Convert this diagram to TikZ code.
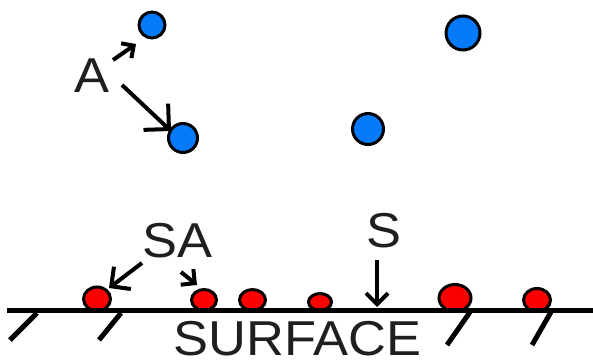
\documentclass[tikz,border=0pt]{standalone}
\usepackage{fontspec}
\setmainfont{Liberation Sans}
\usetikzlibrary{arrows.meta,shapes.geometric}
\definecolor{dotblue}{RGB}{5,122,250}
\definecolor{dotred}{RGB}{250,0,0}
\tikzset{
  atom/.style={circle,draw=black,line width=3pt,fill=dotblue,inner sep=0pt},
  adatom/.style={ellipse,draw=black,line width=3pt,fill=dotred,inner sep=0pt},
  label/.style={inner sep=0pt,font=\fontsize{49}{51}\selectfont,text=black!88,xscale=1.07},
  pointer/.style={line width=4pt,-{Straight Barb[length=#1,width=2*#1,line width=4pt]}},
  pointer/.default=14pt,
  hatch/.style={line width=5pt},
  ground/.style={line width=5.5pt}
}
\begin{document}
\begin{tikzpicture}[x=1pt,y=-1pt]
\useasboundingbox (0,0) rectangle (593,361);

% free atoms
\node[atom,minimum size=26pt] (a1) at (152,25) {};
\node[atom,minimum size=29pt] (a2) at (183,138) {};
\node[atom,minimum size=34pt] (a3) at (463,33) {};
\node[atom,minimum size=31pt] (a4) at (368,129) {};

% adsorbed atoms sitting on the surface
\node[adatom,minimum width=27pt,minimum height=24pt] (s1) at (97,299) {};
\node[adatom,minimum width=25pt,minimum height=21pt] (s2) at (204,300) {};
\node[adatom,minimum width=26pt,minimum height=21pt] (s3) at (252.5,300) {};
\node[adatom,minimum width=23pt,minimum height=17pt] (s4) at (320,302) {};
\node[adatom,minimum width=32pt,minimum height=27pt] (s5) at (455,298) {};
\node[adatom,minimum width=27pt,minimum height=23pt] (s6) at (537,300) {};

% the surface and its hatching
\coordinate (gl) at (7,310.5);
\coordinate (gr) at (593,310.5);
\draw[ground] (gl) -- (gr);
\coordinate (h1t) at (37,313); \coordinate (h1b) at (10,340);
\coordinate (h2t) at (121,313); \coordinate (h2b) at (99,340);
\coordinate (h3t) at (470,312); \coordinate (h3b) at (447,345);
\coordinate (h4t) at (551,312); \coordinate (h4b) at (532,345);
\draw[hatch] (h1t) -- (h1b);
\draw[hatch] (h2t) -- (h2b);
\draw[hatch] (h3t) -- (h3b);
\draw[hatch] (h4t) -- (h4b);

% labels
\node[label] (A) at (92,75.5) {A};
\node[label] (SA) at (177.5,240.5) {SA};
\node[label] (S) at (384,230.5) {S};
\node[label] (surf) at (297.5,338.5) {SURFACE};

% pointers
\coordinate (pA1s) at (113,60); \coordinate (pA1e) at (136,44);
\coordinate (pA2s) at (122,85); \coordinate (pA2e) at (171,131);
\coordinate (pSA1s) at (142,263); \coordinate (pSA1e) at (109,288);
\coordinate (pSA2s) at (181,272); \coordinate (pSA2e) at (197,285);
\coordinate (pSs) at (377,260); \coordinate (pSe) at (377,307);
\draw[pointer=9pt] (pA1s) -- (pA1e);
\draw[pointer=18pt] (pA2s) -- (pA2e);
\draw[pointer=14pt] (pSA1s) -- (pSA1e);
\draw[pointer=10pt] (pSA2s) -- (pSA2e);
\draw[pointer=11pt] (pSs) -- (pSe);
\end{tikzpicture}
\end{document}
